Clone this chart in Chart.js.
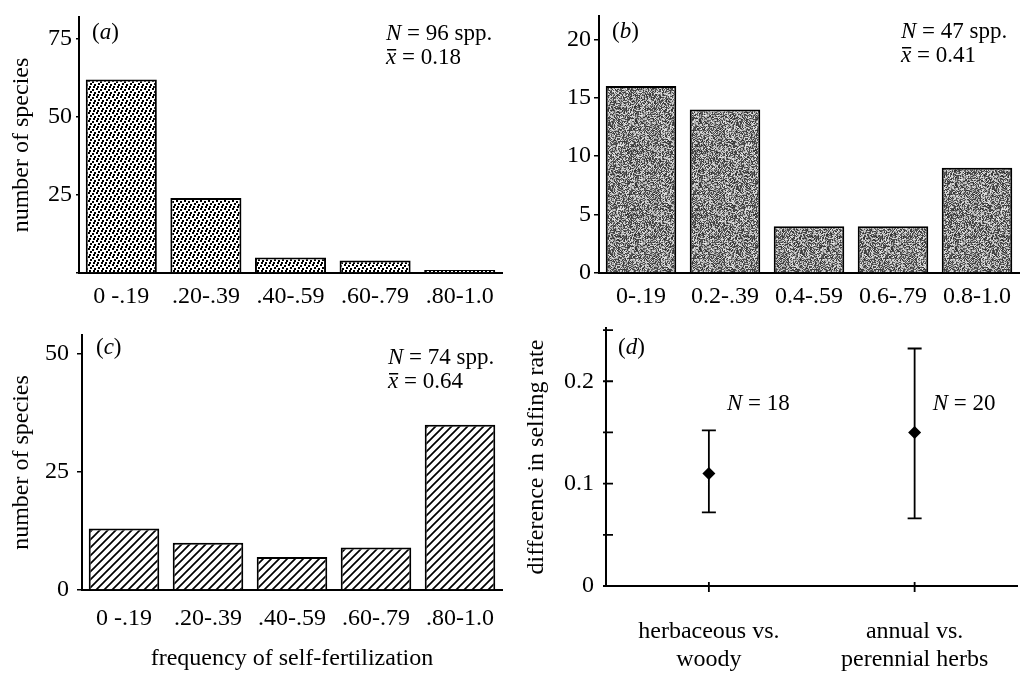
<!DOCTYPE html>
<html>
<head>
<meta charset="utf-8">
<script src="https://cdn.jsdelivr.net/npm/chart.js@4.4.0/dist/chart.umd.min.js"></script>
<style>
  body { margin: 0; background: #fff; }
  #wrap { position: relative; width: 1024px; height: 673px; overflow: hidden; }
  canvas { position: absolute; }
</style>
</head>
<body>
<div id="wrap">
  <canvas id="chartA" width="512" height="310" style="left:0;top:0"></canvas>
  <canvas id="chartB" width="512" height="310" style="left:512px;top:0"></canvas>
  <canvas id="chartC" width="512" height="363" style="left:0;top:310px"></canvas>
  <canvas id="chartD" width="512" height="363" style="left:512px;top:310px"></canvas>
</div>
<script>
// histogram bins
const binsAC = ['0 -.19', '.20-.39', '.40-.59', '.60-.79', '.80-1.0'];
const binsB = ['0-.19', '0.2-.39', '0.4-.59', '0.6-.79', '0.8-1.0'];
// number of species per bin
const countsA = [62, 24, 5, 4, 1];
const countsB = [16, 14, 4, 4, 9];
const countsC = [13, 10, 7, 9, 35];
// panel summaries
const sppN = [96, 47, 74];
const sppMean = ['0.18', '0.41', '0.64'];
// panel (d)
const groupsD = [['herbaceous vs.', 'woody'], ['annual vs.', 'perennial herbs']];
const diffD = [0.11, 0.15];
const lowD = [0.072, 0.066];
const highD = [0.152, 0.232];
const nD = [18, 20];

const SERIF = '"Liberation Serif", "Times New Roman", serif';
const NOTE = 23;
Chart.defaults.font.family = SERIF;
Chart.defaults.font.size = 24;
Chart.defaults.color = '#000';
Chart.defaults.animation = false;

// fills
function stipple() {
  const c = document.createElement('canvas');
  c.width = 8; c.height = 8;
  const g = c.getContext('2d');
  g.fillStyle = '#fff'; g.fillRect(0, 0, 8, 8);
  g.fillStyle = '#000';
  [[0, 0], [4, 1], [2, 3], [6, 4], [1, 6], [5, 6]].forEach(p => g.fillRect(p[0], p[1], 2, 2));
  return g.createPattern(c, 'repeat');
}
function grain() {
  const n = 64;
  const c = document.createElement('canvas');
  c.width = n; c.height = n;
  const g = c.getContext('2d');
  const img = g.createImageData(n, n);
  for (let y = 0; y < n; y++) {
    for (let x = 0; x < n; x++) {
      let h = (x * 374761393 + y * 668265263) | 0;
      h = Math.imul(h ^ (h >>> 13), 1274126177);
      h = (h ^ (h >>> 16)) >>> 0;
      const v = (h & 255) < 125 ? 45 + (h >>> 8) % 60 : 145 + (h >>> 8) % 90;
      const i = (y * n + x) * 4;
      img.data[i] = img.data[i + 1] = img.data[i + 2] = v;
      img.data[i + 3] = 255;
    }
  }
  g.putImageData(img, 0, 0);
  return g.createPattern(c, 'repeat');
}
function hatch() {
  const c = document.createElement('canvas');
  c.width = 8; c.height = 8;
  const g = c.getContext('2d');
  g.fillStyle = '#fff'; g.fillRect(0, 0, 8, 8);
  g.strokeStyle = '#000'; g.lineWidth = 1.7;
  g.beginPath();
  g.moveTo(-1, 9); g.lineTo(9, -1);
  g.moveTo(-1, 1); g.lineTo(1, -1);
  g.moveTo(7, 9); g.lineTo(9, 7);
  g.stroke();
  return g.createPattern(c, 'repeat');
}

function drawRich(ctx, x, y, parts, size) {
  parts.forEach(p => {
    ctx.font = (p.it ? 'italic ' : '') + size + 'px ' + SERIF;
    ctx.fillText(p.t, x, y);
    const w = ctx.measureText(p.t).width;
    if (p.bar) ctx.fillRect(x + 1, y - 15, w - 1, 1.5);
    x += w;
  });
}

// panel letter and N / mean text
function panelText(letter, lx, ly, n, mean, nx, ny) {
  return {
    id: 'panelText',
    afterDraw(chart) {
      const ctx = chart.ctx;
      ctx.save();
      ctx.fillStyle = '#000';
      ctx.textBaseline = 'alphabetic';
      ctx.textAlign = 'left';
      drawRich(ctx, lx, ly, [{ t: '(' }, { t: letter, it: true }, { t: ')' }], NOTE);
      drawRich(ctx, nx, ny, [{ t: 'N', it: true }, { t: ' = ' + n + ' spp.' }], NOTE);
      drawRich(ctx, nx, ny + 24, [{ t: 'x', it: true, bar: true }, { t: ' = ' + mean }], NOTE);
      ctx.restore();
    }
  };
}

function histogram(id, labels, values, fill, o, plugin) {
  return new Chart(document.getElementById(id), {
    type: 'bar',
    data: {
      labels: labels,
      datasets: [{
        data: values,
        backgroundColor: fill,
        borderColor: '#000',
        borderWidth: 2,
        barPercentage: 0.84,
        categoryPercentage: 1
      }]
    },
    options: {
      responsive: false,
      layout: { padding: { top: o.top, right: o.right, left: 0, bottom: 0 } },
      plugins: { legend: { display: false }, tooltip: { enabled: false } },
      scales: {
        x: {
          grid: { display: false, drawTicks: false },
          border: { display: true, color: '#000', width: 2 },
          ticks: { padding: o.xPad, autoSkip: false, maxRotation: 0 },
          title: o.xTitle ? { display: true, text: o.xTitle, padding: { top: 0, bottom: 0 } } : { display: false },
          afterFit: s => { s.height = o.xH; s.paddingLeft = 0; s.paddingRight = 0; }
        },
        y: {
          min: 0,
          max: o.yMax,
          grid: { display: true, drawOnChartArea: false, drawTicks: true, tickLength: o.tickLen, color: '#000', lineWidth: 1.5 },
          border: { display: true, color: '#000', width: 2 },
          ticks: {
            stepSize: o.step,
            includeBounds: false,
            padding: o.tickPad,
            callback: v => (o.hideZero && v === 0) ? '' : v
          },
          title: o.yTitle ? { display: true, text: o.yTitle, padding: { top: 7, bottom: 0 } } : { display: false },
          afterFit: s => { s.width = o.yW; s.paddingTop = 0; s.paddingBottom = 0; }
        }
      }
    },
    plugins: [plugin]
  });
}

histogram('chartA', binsAC, countsA, stipple(),
  { top: 17, right: 10, xH: 37, yW: 79, yMax: 82, step: 25, tickLen: 3, tickPad: 4, xPad: 9, hideZero: true, yTitle: 'number of species' },
  panelText('a', 92, 39, sppN[0], sppMean[0], 386, 40));

histogram('chartB', binsB, countsB, grain(),
  { top: 16, right: 5, xH: 37, yW: 87, yMax: 22, step: 5, tickLen: 5, tickPad: 3, xPad: 9 },
  panelText('b', 100, 38, sppN[1], sppMean[1], 389, 38));

histogram('chartC', binsAC, countsC, hatch(),
  { top: 25, right: 10, xH: 83, yW: 82, yMax: 54, step: 25, tickLen: 5, tickPad: 8, xPad: 14, yTitle: 'number of species', xTitle: 'frequency of self-fertilization' },
  panelText('c', 96, 44, sppN[2], sppMean[2], 388, 54));

// error bars, crossing ticks and N labels for (d)
const panelD = {
  id: 'panelD',
  beforeDatasetsDraw(chart) {
    const ctx = chart.ctx, xs = chart.scales.x, ys = chart.scales.y;
    ctx.save();
    ctx.strokeStyle = '#000';
    ctx.lineWidth = 1.8;
    ctx.beginPath();
    diffD.forEach((v, i) => {
      const x = xs.getPixelForValue(i);
      const yl = ys.getPixelForValue(lowD[i]);
      const yh = ys.getPixelForValue(highD[i]);
      ctx.moveTo(x, yl); ctx.lineTo(x, yh);
      ctx.moveTo(x - 7, yl); ctx.lineTo(x + 7, yl);
      ctx.moveTo(x - 7, yh); ctx.lineTo(x + 7, yh);
    });
    ys.ticks.forEach((t, i) => {
      const y = ys.getPixelForTick(i);
      ctx.moveTo(ys.right - 3, y); ctx.lineTo(ys.right + 7, y);
    });
    xs.ticks.forEach((t, i) => {
      const x = xs.getPixelForTick(i);
      ctx.moveTo(x, xs.top - 4); ctx.lineTo(x, xs.top + 6);
    });
    ctx.stroke();
    ctx.fillStyle = '#000';
    ctx.textBaseline = 'alphabetic';
    nD.forEach((n, i) => {
      drawRich(ctx, xs.getPixelForValue(i) + 18, 100, [{ t: 'N', it: true }, { t: ' = ' + n }], NOTE);
    });
    drawRich(ctx, 106, 44, [{ t: '(' }, { t: 'd', it: true }, { t: ')' }], NOTE);
    ctx.restore();
  }
};

new Chart(document.getElementById('chartD'), {
  type: 'line',
  data: {
    labels: groupsD,
    datasets: [{
      data: diffD,
      showLine: false,
      pointStyle: 'rectRot',
      pointRadius: 6.5,
      backgroundColor: '#000',
      borderColor: '#000',
      borderWidth: 0
    }]
  },
  options: {
    responsive: false,
    layout: { padding: { top: 18, right: 1, left: 0, bottom: 0 } },
    plugins: { legend: { display: false }, tooltip: { enabled: false } },
    scales: {
      x: {
        offset: true,
        grid: { display: false, drawTicks: false },
        border: { display: true, color: '#000', width: 2 },
        ticks: { padding: 31, autoSkip: false, maxRotation: 0 },
        afterFit: s => { s.height = 87; s.paddingLeft = 0; s.paddingRight = 0; }
      },
      y: {
        min: 0,
        max: 0.252,
        grid: { display: false, drawTicks: false },
        border: { display: true, color: '#000', width: 2 },
        ticks: {
          stepSize: 0.05,
          includeBounds: false,
          padding: 12,
          callback: v => Math.round(v * 20) % 2 === 0 ? String(+v.toFixed(2)) : ''
        },
        title: { display: true, text: 'difference in selfing rate', padding: { top: 10, bottom: 0 } },
        afterFit: s => { s.width = 94; s.paddingTop = 0; s.paddingBottom = 0; }
      }
    }
  },
  plugins: [panelD]
});
</script>
</body>
</html>
